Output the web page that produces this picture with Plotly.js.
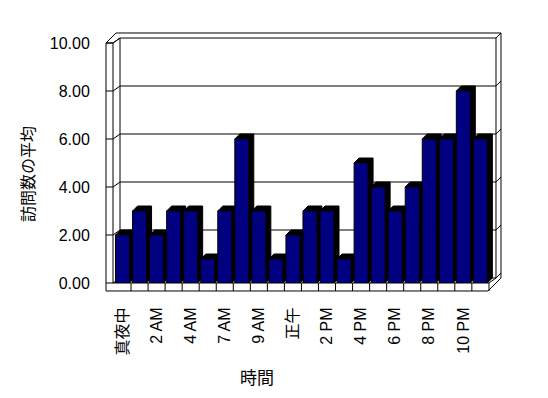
<!DOCTYPE html>
<html>
<head>
<meta charset="utf-8">
<script src="https://cdn.plot.ly/plotly-3.0.1.min.js"></script>
<style>html,body{margin:0;padding:0;background:#fff;}#chart{width:548px;height:398px;}</style>
</head>
<body>
<div id="chart"></div>
<script>
// ---- data ----
const categories = ['真夜中','1 AM','2 AM','3 AM','4 AM','5 AM','7 AM','8 AM','9 AM','11 AM','正午','1 PM','2 PM','3 PM','4 PM','5 PM','6 PM','7 PM','8 PM','9 PM','10 PM','11 PM'];
const visits = [2,3,2,3,3,1,3,6,3,1,2,3,3,1,5,4,3,4,6,6,8,6];
const shownTicks = categories.filter((c, i) => i % 2 === 0);
const yTicks = [0, 2, 4, 6, 8, 10];
const yTitle = '訪問数の平均';
const xTitle = '時間';

// ---- geometry ----
const FW = 548, FH = 398;
const L = 114, T = 43, W = 380, H = 240;
const xRange = [-0.5, 21.8], yRange = [0, 10];
const bargap = 0.18;
const depth = 5; // px of 3D depth
const pxPerCat = W / (xRange[1] - xRange[0]);
const pxPerUnit = H / (yRange[1] - yRange[0]);
const dxD = depth / pxPerCat, dyD = depth / pxPerUnit;
const half = (1 - bargap) / 2;

const P = (px, py) => [(px - L) / W, (T + H - py) / H];
const yPix = v => T + H - (v - yRange[0]) * pxPerUnit;

const shapes = [];
function polyPaper(pts, layer) {
  const d = pts.map((p, i) => { const q = P(p[0], p[1]); return (i ? 'L' : 'M') + q[0].toFixed(5) + ',' + q[1].toFixed(5); }).join(' ');
  shapes.push({type: 'path', xref: 'paper', yref: 'paper', path: d, line: {color: '#000', width: 1}, layer: layer || 'below'});
}
// frame walls
polyPaper([[106, 291], [106, 43], [113, 43], [113, 283]]);
polyPaper([[106, 43], [116, 33], [501, 33], [501, 278], [488, 291], [106, 291]]);
polyPaper([[113, 43], [120, 38], [120, 278]]);
polyPaper([[496, 38], [496, 278]]);
polyPaper([[113, 283], [489, 283], [489, 291]]);
polyPaper([[489, 283], [496, 278]]);
// gridlines (front tick on side wall, back-wall line)
yTicks.forEach(v => {
  const yf = yPix(v);
  polyPaper([[106, yf], [113, yf], [120, yf - depth], [496, yf - depth], [501, yf - 2 * depth]]);
});
// floor dividers at category boundaries
for (let k = 1; k < categories.length; k++) {
  const y0 = P(0, 283)[1], y1 = P(0, 291)[1];
  shapes.push({type: 'line', xref: 'x', yref: 'paper', x0: k - 0.5, x1: k - 0.5, y0: y0, y1: y1, line: {color: '#000', width: 1}, layer: 'below'});
}
// 3D extrusion of each bar (top + side faces)
visits.forEach((v, i) => {
  const x0 = i - half, x1 = i + half;
  const pts = [[x0, v], [x0 + dxD, v + dyD], [x1 + dxD, v + dyD], [x1 + dxD, dyD], [x1, 0], [x1, v]];
  const d = pts.map((p, j) => (j ? 'L' : 'M') + p[0].toFixed(4) + ',' + p[1].toFixed(4)).join(' ') + ' Z';
  shapes.push({type: 'path', xref: 'x', yref: 'y', path: d, fillcolor: '#000', line: {color: '#000', width: 1}, layer: 'between'});
});

const font = 'Liberation Sans, Arial, Noto Sans CJK JP, sans-serif';
const cjk = 'Noto Sans CJK JP, Liberation Sans, sans-serif';

const trace = {
  type: 'bar', x: categories, y: visits,
  marker: {color: '#000080', line: {color: '#000', width: 1}},
  hoverinfo: 'skip'
};

const yTitlePos = P(27, 174), xTitlePos = P(257, 376);
const layout = {
  width: FW, height: FH,
  margin: {l: L, r: FW - L - W, t: T, b: FH - T - H, pad: 0},
  paper_bgcolor: '#fff', plot_bgcolor: 'rgba(0,0,0,0)',
  bargap: bargap, showlegend: false,
  font: {family: font, color: '#000', size: 16},
  xaxis: {
    type: 'category', range: xRange, categoryorder: 'array', categoryarray: categories,
    tickmode: 'array', tickvals: shownTicks, ticktext: shownTicks,
    tickangle: -90, ticks: 'outside', ticklen: 17, tickcolor: 'rgba(0,0,0,0)',
    tickfont: {family: font, size: 16, color: '#000'},
    showgrid: false, zeroline: false, showline: false, automargin: false, fixedrange: true
  },
  yaxis: {
    range: yRange, tickmode: 'array', tickvals: yTicks, tickformat: '.2f',
    ticks: 'outside', ticklen: 20, tickcolor: 'rgba(0,0,0,0)',
    tickfont: {family: font, size: 16, color: '#000'},
    showgrid: false, zeroline: false, showline: false, automargin: false, fixedrange: true
  },
  shapes: shapes,
  annotations: [
    {xref: 'paper', yref: 'paper', x: yTitlePos[0], y: yTitlePos[1], text: yTitle, textangle: -90,
     showarrow: false, xanchor: 'center', yanchor: 'middle', font: {family: cjk, size: 16, color: '#000'}},
    {xref: 'paper', yref: 'paper', x: xTitlePos[0], y: xTitlePos[1], text: xTitle,
     showarrow: false, xanchor: 'center', yanchor: 'middle', font: {family: cjk, size: 17, color: '#000'}}
  ]
};

Plotly.newPlot('chart', [trace], layout, {displayModeBar: false, staticPlot: true});
</script>
</body>
</html>
